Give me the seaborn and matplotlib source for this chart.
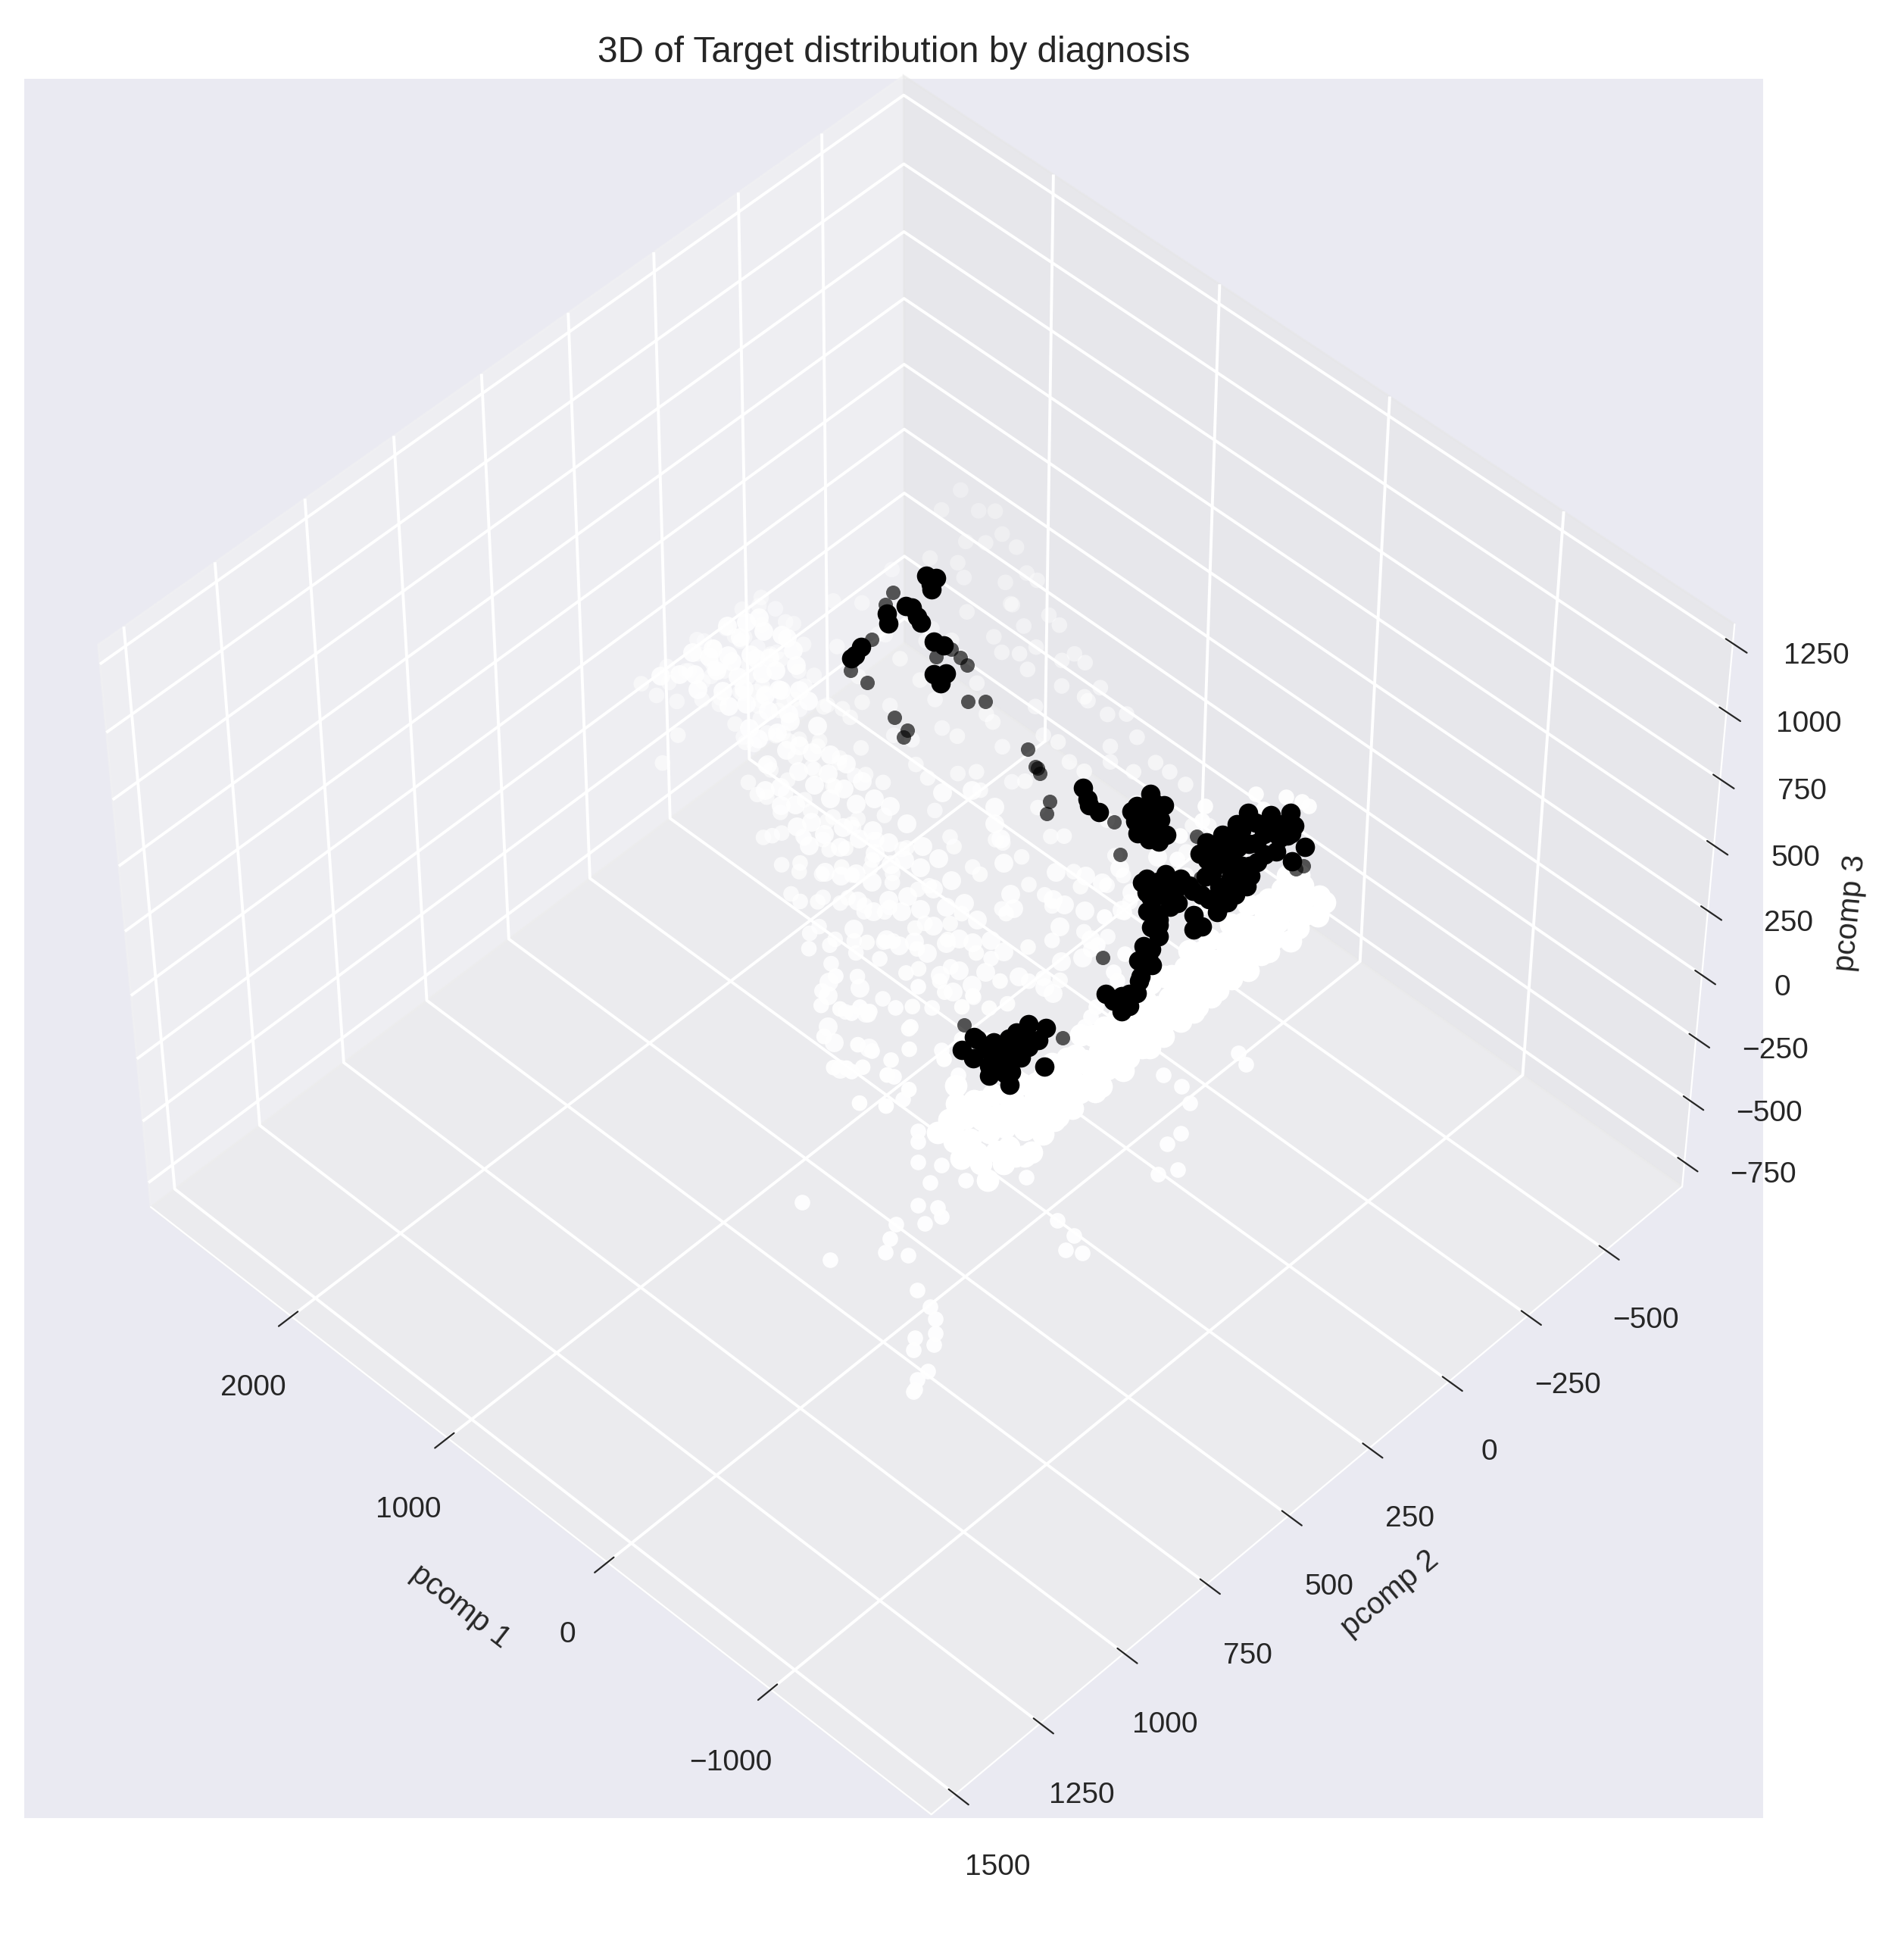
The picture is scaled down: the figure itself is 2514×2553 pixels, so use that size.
import matplotlib
matplotlib.use("Agg")
import matplotlib.pyplot as plt
import seaborn as sns

# values, benign (white) points first
sheet_pc1 = [
    2610, 2590, 2625, 2570, 2600, 2640, 2585, 2615, 2560, 2630, 2595, 2575, 2620, 2605,
    2480, 2505, 2460, 2490, 2520, 2470, 2445, 2500, 2475, 2515, 2450, 2485, 2465, 2440,
    2360, 2335, 2385, 2350, 2375, 2320, 2365, 2390, 2340, 2370, 2355, 2330, 2380, 2345,
    2229, 2260, 2215, 2250, 2225, 2270, 2235, 2205, 2255, 2240, 2275, 2210, 2245, 2220,
    2120, 2095, 2145, 2110, 2130, 2085, 2150, 2105, 2125, 2090, 2140, 2115, 2100, 2135,
    2000, 2030, 1975, 2015, 1990, 2040, 1980, 2010, 1970, 2025, 1995, 2035, 1906, 1985,
    1880, 1855, 1905, 1870, 1890, 1845, 1900, 1865, 1885, 1850, 1910, 1875, 1840, 1860,
    1760, 1785, 1735, 1770, 1750, 1795, 1740, 1775, 1730, 1765, 1790, 1745, 1780, 1755,
    1640, 1615, 1665, 1630, 1650, 1605, 1660, 1625, 1645, 1610, 1670, 1635, 1644, 1620,
    1520, 1545, 1495, 1530, 1510, 1555, 1500, 1535, 1490, 1525, 1550, 1505, 1540, 1515,
    1400, 1375, 1425, 1390, 1410, 1365, 1420, 1385, 1405, 1370, 1430, 1395, 1360, 1380,
    1280, 1305, 1255, 1290, 1270, 1315, 1260, 1295, 1250, 1285, 1310, 1265, 1300, 1275,
    1160, 1135, 1185, 1150, 1170, 1125, 1180, 1145, 1165, 1130, 1190, 1155, 1120, 1140,
    1040, 1065, 1015, 1050, 1030, 1075, 1020, 1055, 1010, 1045, 1070, 1025, 1060, 1035,
    920, 895, 945, 910, 930, 885, 940, 905, 925, 890, 950, 915, 880, 900,
    800, 825, 775, 810, 790, 835, 780, 815, 770, 805, 830, 785, 820, 795,
    680, 655, 705, 670, 690, 645, 700, 665, 685, 650, 710, 675, 640, 660,
    560, 585, 535, 570, 550, 595, 540, 575, 530, 565, 590, 545, 580, 555,
    440, 415, 465, 430, 450, 405, 460, 425, 445, 410, 470, 435, 400, 420,
    320, 345, 295, 330, 310, 355, 300, 335, 290, 325, 350, 305, 340, 315,
    200, 175, 225, 190, 210, 165, 220, 185, 205, 170, 230, 195, 160, 180,
    80, 105, 55, 90, 70, 115, 60, 95, 50, 85, 110, 65, 100, 75,
]
sheet_pc2 = [
    215, 180, 130, 90, 50, 10, -30, -70, -120, -160, 140, 60, -10, -90,
    170, 130, 100, 60, 20, -20, -60, -100, -130, 40, 80, -40, -180, -690,
    150, 110, 70, 40, 0, -40, -80, -120, 20, 90, -250, -420, -600, -700,
    332, 270, 120, 80, 50, 10, -30, -70, -110, 30, -300, -480, -610, -690,
    140, 100, 60, 20, -20, -60, 80, 40, -150, -260, -390, -520, -600, -670,
    190, 150, 110, 70, 30, -10, -50, 120, -140, -250, -380, -500, -566, -640,
    240, 200, 160, 120, 80, 40, 0, -40, -110, -210, -320, -430, -550, -610,
    270, 230, 190, 150, 110, 70, 30, -20, -120, -230, -340, -450, -525, -590,
    310, 270, 230, 190, 150, 110, 70, 20, -90, -200, -310, -420, -493, -560,
    340, 300, 260, 220, 180, 140, 100, 50, -70, -180, -300, -410, -480, -540,
    370, 330, 290, 250, 210, 170, 130, 70, -40, -150, -270, -380, -470, -520,
    400, 360, 320, 280, 240, 200, 160, 110, 0, -110, -230, -340, -440, -500,
    430, 390, 350, 310, 270, 230, 190, 130, 20, -90, -200, -310, -420, -480,
    460, 420, 380, 340, 300, 260, 220, 160, 50, -60, -170, -290, -400, -450,
    520, 470, 430, 390, 350, 310, 260, 200, 80, -30, -150, -270, -380, -440,
    540, 500, 450, 400, 360, 320, 270, 210, 100, -10, -130, -250, -350, -420,
    600, 540, 480, 430, 380, 330, 280, 220, 120, 10, -110, -220, -330, -410,
    650, 590, 530, 470, 410, 350, 290, 230, 130, 30, -90, -200, -310, -400,
    680, 620, 560, 500, 440, 380, 320, 260, 160, 60, -60, -170, -290, -380,
    700, 640, 580, 510, 450, 390, 330, 260, 170, 80, -20, -130, -260, -350,
    720, 650, 560, 480, 410, 350, 290, 220, 140, 60, -40, -140, -250, -330,
    700, 620, 540, 470, 400, 320, 240, 170, 100, 30, -50, -130, -220, -310,
]
sheet_pc3 = [
    30, -40, 10, -20, 50, -10, 25, -55, 40, 5, -30, 15, -45, 35,
    -25, 45, -5, 20, -50, 35, -15, 10, 55, -35, 0, 25, -45, 15,
    15, -30, 40, -55, 5, 30, -20, 50, -10, -40, 25, 0, 45, -35,
    0, 35, -45, 20, 10, -25, 55, -15, 30, -50, 5, 40, -30, 25,
    -35, 10, 50, -5, -45, 30, 15, -20, 40, 0, -55, 25, 35, -10,
    45, -15, 5, -40, 25, 55, -30, 10, 0, 35, -50, 20, -5, 30,
    -10, 30, -50, 40, 0, -25, 45, 15, -35, 55, -5, 20, -45, 10,
    25, -35, 15, 50, -20, 5, -55, 40, 10, -10, 30, -40, 0, 45,
    -50, 20, 35, -15, 55, -30, 0, 25, -40, 10, 45, -25, 5, -5,
    40, 0, -30, 15, -55, 25, 50, -10, 30, -45, 5, 35, -20, 20,
    10, -45, 25, -5, 35, -25, -55, 45, 0, 20, -35, 50, 15, -15,
    -20, 50, -10, 30, 5, 40, -35, -5, 55, -50, 25, 0, -30, 15,
    35, 5, -40, 55, -25, 15, 30, -50, -15, 45, 10, -35, 25, -5,
    -5, -30, 45, 10, -50, 35, 0, 25, -20, 40, -45, 15, 55, -35,
    50, 25, -15, -45, 20, 0, 40, -30, 10, -55, 30, 5, -25, 35,
    -40, 15, 30, 5, -25, 50, -55, 35, 20, -10, 0, 45, -30, 10,
    20, -55, 0, 35, 45, -15, 10, -35, 50, 25, -40, 5, 30, -20,
    5, 40, -20, -35, 15, -50, 30, 55, -5, -25, 35, 10, -45, 0,
    -30, 10, 55, 25, -40, 20, -10, 0, 45, 35, -20, -50, 15, 30,
    45, -25, -35, 0, 30, 10, -45, 20, -5, 50, 15, -30, 40, -55,
    -15, 35, 20, -50, 40, -5, 15, -40, 30, 0, 55, -20, 10, 25,
    10, -20, 40, 30, -35, 5, 50, -45, 25, -10, 35, 0, -25, 15,
]

# brighter path through the sheet, where many points pile up
dense_pc1 = [
    2600, 2585, 2610, 2590, 2605, 2520, 2535, 2510, 2525, 2515,
    2440, 2450, 2430, 2445, 2435, 2455, 2360, 2370, 2350, 2365,
    2355, 2280, 2290, 2270, 2285, 2275, 2200, 2210, 2190, 2205,
    2120, 2130, 2110, 2125, 2560, 2040, 2000, 2010, 1990, 2005,
    1880, 1890, 1870, 1885, 1760, 1770, 1750, 1765, 1755, 1640,
    1650, 1630, 1645, 1635, 1520, 1530, 1510, 1525, 1515, 1400,
    1410, 1390, 1405, 1395, 1280, 1290, 1270, 1285, 1275, 1160,
    1170, 1150, 1165, 1155, 1040, 1050, 1030, 1045, 1035, 920,
    930, 910, 925, 915, 935, 800, 810, 790, 805, 795,
    680, 690, 670, 685, 675, 560, 570, 550, 565, 440,
    450, 430, 445, 320, 330, 310, 325, 800, 700, 600,
    500, 400, 350, 650, 550, 252, 217, 130, 300, 350,
    180, 120, 400, 60, 150, 240, 330, 420, 500, 90,
    170, 20, 592, 700, 800, 500, 900, 1000, 1100, 1200,
]
dense_pc2 = [
    -40, 10, 60, 110, 160, -100, -50, 0, 50, 100,
    -130, -80, -30, 20, 70, 120, -110, -60, -10, 40,
    90, -90, -40, 10, 60, 110, -60, -10, 40, 90,
    -30, 20, 70, 120, -80, 40, 0, 50, 100, 150,
    30, 80, 130, 180, 50, 100, 150, 200, 250, 60,
    110, 160, 210, 260, 70, 120, 170, 220, 270, 90,
    140, 190, 240, 290, 100, 150, 200, 250, 300, 110,
    160, 210, 260, 310, 120, 170, 220, 270, 320, 130,
    180, 230, 280, 330, 380, 150, 200, 250, 300, 350,
    170, 220, 270, 320, 370, 190, 240, 290, 340, 210,
    260, 310, 360, 230, 280, 330, 380, 520, 570, 620,
    650, 680, 620, 500, 530, 18, -189, 60, -60, -140,
    -90, -30, -60, 120, 140, 100, 40, 30, -20, 220,
    260, 230, 74, 40, 0, 110, -30, -80, -60, -20,
]
dense_pc3 = [
    20, -15, 5, -25, 10, 30, -5, -20, 15, 0,
    -30, 25, -10, 5, 20, -15, 10, -25, 30, 0,
    -5, 15, -20, 25, 5, -10, 20, -30, 0, 10,
    -15, 30, 5, -20, 15, -5, 25, -10, 0, 20,
    10, -25, 15, 0, -30, 20, 5, -15, 25, -5,
    0, 15, -20, 30, -10, 5, 25, -25, 10, -5,
    20, -15, 0, 10, 30, -20, 5, 15, -30, 25,
    -5, 10, -25, 20, 0, -10, 30, 5, -15, 15,
    25, -30, 0, 10, -20, 5, 15, -5, 30, -25,
    -10, 20, 5, -15, 25, 0, -30, 10, 15, -5,
    30, -20, 5, 25, -10, 0, 15, -25, 20, -5,
    10, -15, 30, 0, -20, 5, 25, -10, 15, -30,
    0, 20, -5, 10, -25, 30, 15, -15, 5, -20,
    25, 0, -30, 10, 20, -10, 5, -25, 15, 0,
]

band_pc1 = [
    -480, -500, -475, -495, -510, -470, -490, -505, -485, -465, -500, -480, -495, -475, -510,
    -490, -470, -505, -485, -495, -475, -500, -465, -490, -510, -480, -495, -470, -505, -485,
    -420, -405, -430, -415, -400, -425, -435, -410, -420, -395, -430, -415, -405, -425, -410,
    -435, -400, -420, -415, -430, -405, -425, -395, -410, -435, -420, -400, -430, -415, -405,
    -350, -335, -365, -345, -355, -330, -360, -340, -370, -350, -335, -360, -345, -330, -365,
    -355, -340, -350, -370, -335, -345, -360, -330, -355, -365, -340, -350, -335, -360, -345,
    -280, -265, -295, -270, -285, -260, -290, -275, -300, -265, -280, -255, -295, -270, -285,
    -260, -290, -275, -265, -300, -280, -270, -255, -285, -295, -265, -275, -290, -260, -280,
]
band_pc2 = [
    -350, -320, -290, -260, -230, -200, -170, -140, -110, -80, -50, -20, 10, 40, 70,
    100, 130, 160, 190, 220, 250, 280, 310, 340, 370, 400, 430, 460, 490, 520,
    -365, -335, -305, -275, -245, -215, -185, -155, -125, -95, -65, -35, -5, 25, 55,
    85, 115, 145, 175, 205, 235, 265, 295, 325, 355, 385, 415, 445, 475, 505,
    -350, -320, -290, -260, -230, -200, -170, -140, -110, -80, -50, -20, 10, 40, 70,
    100, 130, 160, 190, 220, 250, 280, 310, 340, 370, 400, 430, 460, 490, 520,
    -375, -345, -315, -285, -255, -225, -195, -165, -135, -105, -75, -45, -15, 15, 45,
    75, 105, 135, 165, 195, 225, 255, 285, 315, 345, 375, 405, 435, 465, 495,
]
band_pc3 = [
    5, -10, 15, 0, -15, 10, -5, 20, -20, 5, 15, -10, 0, -15, 10,
    -5, 20, 5, -20, 15, 0, -10, 10, -15, 5, 20, -5, -20, 15, 0,
    -15, 10, 0, 20, -5, -20, 15, 5, -10, 0, 10, -15, 20, -5, 5,
    -20, 15, 0, -10, 10, -15, 5, 20, -5, -20, 15, 0, -10, 10, -15,
    10, 0, -20, 5, 15, -10, 20, -5, 0, -15, 5, 10, -20, 15, 0,
    -10, 20, -5, 5, -15, 10, 0, -20, 15, -5, 20, 5, -10, 0, 10,
    -5, 15, 5, -15, 0, 20, -10, 10, -20, 5, -5, 15, 0, -15, 20,
    10, -10, 5, -20, 15, 0, -5, 20, -15, 10, 5, -10, 0, 15, -20,
]

blob_pc1 = [
    -520, -530, -515, -525, -510, -440, -450, -435, -445, -430,
    -360, -370, -355, -365, -350, -280, -290, -275, -285, -270,
    -200, -210, -195, -205, -190, -150, -170, -120, -40, -560,
]
blob_pc2 = [
    530, 570, 610, 650, 690, 510, 550, 590, 630, 670,
    530, 570, 610, 650, 690, 510, 550, 590, 630, 670,
    520, 560, 600, 640, 680, 551, 637, 590, 553, 605,
]
blob_pc3 = [
    10, -15, 5, 20, -10, 0, 15, -20, 10, -5,
    -10, 5, 20, -15, 0, 15, -5, 10, -20, 5,
    0, 20, -10, 5, 15, -15, 10, 0, -5, 20,
]

# tail and loose groups below the main band
tail_pc1 = [
    -149, -240, -346, -331, -461, -524, -402, -436, -638, -411,
    -480, -342, -41, -721, -837, -894, -964, -942, -1071, -1114,
    -895, -992, -1030, -1106, -648, -765, -849, -923, -940, -1068,
    -1034, -799, -875, -445, -1090, -1085, -500, -560, -905, -1000,
    762, 594, 548, 350, 180, 45, -93, 357, 305, 500, 254,
    -197, -160, -230, -86, -97, -141, 4, -55, 166, 104,
    80, 177, -36, 268, 168, 60, 120, 240, 300, 20,
]
tail_pc2 = [
    719, 764, 779, 738, 813, 833, 843, 719, 639, 912,
    976, 1071, 1005, 1001, 1021, 1034, 1069, 1121, 1173, 1206,
    676, 675, 720, 709, 233, 238, 254, 320, 370, 403,
    446, 81, 99, 945, 1190, 1150, 870, 950, 1100, 1090,
    517, 528, 574, 671, 628, 668, 691, 608, 518, 399, 356,
    225, 190, 260, 99, -164, 115, 523, 49, -1, -29,
    65, -474, -532, -285, -224, -510, -470, -340, -380, -540,
]
tail_pc3 = [
    0, 10, -5, 15, -10, 5, 0, -15, 10, 5,
    -5, 0, 10, -10, 5, 0, 15, -5, 0, 10,
    5, -10, 0, 15, -5, 10, 0, -15, 5, 0,
    10, -5, 5, 0, -10, 15, 5, -5, 0, 10,
    15, -20, 25, -10, 5, 20, -15, 0, 30, -25, 10,
    5, -10, 15, 0, -5, 10, -15, 5, 0, 20,
    -5, 10, 0, -10, 5, 15, -20, 10, 0, -15,
]

# malignant (black) points, dense groups and the lone grey dots
core_pc1 = [
    2184, 2153, 2140, 2101, 2133, 2090, 2041, 2004, 2140, 2105,
    2087, 2067, 1873, 1834, 1723, 1700, 1676, 761, 708, 663,
    621, 527, 428, 531, 502, 462, 393, 423, 404, 351,
    296, 357, -14, 56, 66, -75, -28, 84, 115, 149,
    76, 17, -13, 109, 16, -107, -193, -205, -21, 123,
    -6, -58, -85, -80, -105, -151, -168, -178, -177, -167,
    -4, -9, 148, 142, 141, 53, 20, 72, -6, 21,
    -30, -69, -87, -144, -184, -189, -273, -264, -151, -250,
    77, 79, -4, -88, 2, -111, -206, -37, -23, -31,
    -124, -131, -81, 19, -164, -109, -254, 41, 74, 12,
    -6, 69, -93, -97, -162, 57, 62, 185, -8, -216,
    -25, -93, -145, 2092, -60, -50, -120, 300, 470, -130,
    128, 79, -66, -99, -86, -72, -93, 9, -50, -159,
    -130, -104, 107, 97, 189, 151, 46, -40, -110, -129,
    -225, -207, 443, 475, 81, -63, -125, 77, 3, -209,
]
core_pc2 = [
    -456, -470, -447, -431, -367, -364, -356, -351, -312, -298,
    -186, -166, -327, -337, -252, -277, -251, -235, -221, -205,
    -213, -325, -317, -285, -254, -287, -288, -244, -223, -232,
    -234, -259, -485, -461, -419, -467, -432, -382, -338, -308,
    -296, -337, -380, -266, -277, -393, -438, -391, -458, -424,
    -407, -311, -263, -230, -183, -277, -211, -171, -125, -105,
    -227, -184, -144, -176, -118, -157, -186, -118, -138, -82,
    -44, -2, -40, 23, 67, 34, 145, 164, 156, 111,
    430, 475, 445, 452, 478, 487, 474, 333, 362, 388,
    346, 403, 426, 410, 448, 316, 393, -430, -341, -369,
    -302, -269, -341, -433, -238, -169, -137, -127, -79, 140,
    421, 360, 457, -207, 390, 440, 430, -260, -250, -300,
    -391, -309, -285, -314, -368, -422, -446, -251, -188, -191,
    -253, -137, -147, -107, -141, -157, -71, -63, -5, 45,
    122, 160, -266, -310, 438, 463, 376, -191, -119, 84,
]
core_pc3 = [
    5, -5, 0, 10, -10, 5, 0, -5, 10, 0,
    -10, 5, 0, -5, 10, 0, -5, 5, 0, 10,
    -5, 0, 5, -10, 10, 0, -5, 5, 0, -10,
    5, 0, 10, -5, 0, 5, -10, 0, 10, -5,
    0, 5, -5, 10, 0, -10, 5, 0, -5, 10,
    0, -5, 5, 0, 10, -10, 0, 5, -5, 0,
    10, 0, -5, 5, -10, 0, 5, 10, -5, 0,
    5, -10, 0, 5, -5, 10, 0, -5, 0, 5,
    -5, 0, 10, -10, 5, 0, -5, 10, 0, 5,
    0, -5, 5, -10, 0, 10, 5, -5, 0, -10,
    5, 0, -5, 10, 0, -5, 5, 0, -10, 5,
    0, 5, -5, 0, 10, -5, 0, 5, -10, 0,
    -5, 5, 0, 10, -5, 0, 5, -10, 0, 5,
    10, -5, 0, 5, 0, -10, 5, 0, -5, 10,
    0, 5, -5, 0, 10, -10, 5, 0, -5, 5,
]

lone_pc1 = [
    2196, 2220, 2094, 2022, 1908, 1807, 1786, 1715, 1665, 1455,
    1501, 1674, 1584, 1560, 1102, 1011, 972, 990, 818, 782,
    526, 368, 204, 20, 1, -190, -257, -249, 168, 2092,
]
lone_pc2 = [
    -334, -369, -242, -141, -137, -300, -336, -330, -327, -278,
    -247, -107, -102, -79, -235, -213, -208, -210, -160, -132,
    -213, -150, -306, -222, 89, 307, -400, -381, 425, -207,
]
lone_pc3 = [
    0, 5, -5, 0, 5, -5, 0, 5, 0, -5,
    5, 0, -5, 0, 5, 0, -5, 5, 0, -5,
    0, 5, -5, 0, 5, 0, -5, 0, 5, 0,
]

sns.set_style("darkgrid")
plt.rcParams['font.family'] = ['Liberation Sans', 'DejaVu Sans']
plt.rcParams['grid.linewidth'] = 1.4

fig = plt.figure(figsize=(12.57, 12.765), dpi=200)
ax = fig.add_axes([32/2514, 1-2400/2553, 2296/2514, 2296/2553], projection='3d')
ax.view_init(elev=48, azim=134)
ax.computed_zorder = False

ax.scatter(sheet_pc1, sheet_pc2, sheet_pc3, c='white', s=55, linewidths=0, zorder=2)
ax.scatter(dense_pc1, dense_pc2, dense_pc3, c='white', s=80, linewidths=0, alpha=0.85,
           depthshade=False, zorder=2.2)
ax.scatter(tail_pc1, tail_pc2, tail_pc3, c='white', s=55, linewidths=0, alpha=0.95,
           depthshade=False, zorder=2.3)
ax.scatter(band_pc1 + blob_pc1, band_pc2 + blob_pc2, band_pc3 + blob_pc3, c='white', s=115,
           linewidths=0, depthshade=False, zorder=2.4)
ax.scatter(lone_pc1, lone_pc2, lone_pc3, c='black', s=47, linewidths=0, alpha=0.65,
           depthshade=False, zorder=3)
ax.scatter(core_pc1, core_pc2, core_pc3, c='black', s=85, linewidths=0,
           depthshade=False, zorder=4)

ax.set_xlim(-1960, 2920)
ax.set_ylim(-748, 1570)
ax.set_zlim(-850, 1320)
ax.set_xlabel('pcomp 1', fontsize=14.5, labelpad=18)
ax.set_ylabel('pcomp 2', fontsize=14.5, labelpad=18)
ax.set_zlabel('pcomp 3', fontsize=14.5, labelpad=18)
ax.tick_params(labelsize=14, pad=14, width=1.6)
ax.set_title('3D of Target distribution by diagnosis', fontsize=17.2, pad=8)
fig.savefig('out.png', dpi=200)
